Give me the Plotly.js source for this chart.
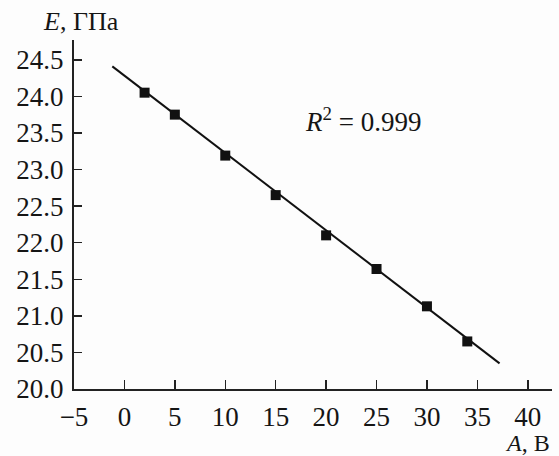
<!DOCTYPE html>
<html><head><meta charset="utf-8">
<script src="https://cdn.plot.ly/plotly-3.0.1.min.js"></script>
<style>html,body{margin:0;padding:0;background:#fdfdfd;}</style>
</head><body>
<div id="chart" style="width:559px;height:456px;"></div>
<script>
// Measured points
const voltage = [2, 5, 10, 15, 20, 25, 30, 34];
const modulus = [24.05, 23.75, 23.19, 22.65, 22.10, 21.64, 21.13, 20.65];
// Linear fit line endpoints
const fitX = [-1.2, 37.2];
const fitY = [24.41, 20.35];
const xTicks = [-5, 0, 5, 10, 15, 20, 25, 30, 35, 40];
const yTicks = [20.0, 20.5, 21.0, 21.5, 22.0, 22.5, 23.0, 23.5, 24.0, 24.5];

const fam = 'Liberation Serif, Times New Roman, serif';
const font = {family: fam, size: 25, color: '#151515'};
const tickFont = {family: fam, size: 27, color: '#151515'};

const traces = [
  {x: fitX, y: fitY, mode: 'lines', line: {color: '#111', width: 2}, hoverinfo: 'skip'},
  {x: voltage, y: modulus, mode: 'markers', marker: {symbol: 'square', size: 10, color: '#111'}}
];

const layout = {
  width: 559, height: 456,
  margin: {l: 74, r: 7, t: 40, b: 67},
  paper_bgcolor: '#fdfdfd', plot_bgcolor: '#fdfdfd',
  showlegend: false,
  font: font,
  xaxis: {
    range: [-5, 42.4], tickvals: xTicks, ticks: 'inside', ticklen: 9, tickwidth: 1.5,
    tickcolor: '#222', showline: true, linecolor: '#222', linewidth: 2,
    showgrid: false, zeroline: false, tickfont: tickFont, ticklabelstandoff: 3
  },
  yaxis: {
    range: [20, 24.77], tickvals: yTicks, tickformat: '.1f', ticks: 'inside', ticklen: 8, tickwidth: 1.5,
    tickcolor: '#222', showline: true, linecolor: '#222', linewidth: 2,
    showgrid: false, zeroline: false, tickfont: tickFont, ticklabelstandoff: 3
  },
  annotations: [
    {xref: 'paper', yref: 'paper', x: -0.07, y: 1.0, xanchor: 'left', yanchor: 'bottom', yshift: 2,
     text: '<i>E</i>, ГПа', showarrow: false, font: {family: fam, size: 26, color: '#151515'}},
    {xref: 'paper', yref: 'paper', x: 1.0, y: 0, xanchor: 'right', yanchor: 'top', yshift: -39,
     text: '<i>A</i>, В', showarrow: false, font: {family: fam, size: 24, color: '#151515'}},
    {xref: 'x', yref: 'y', x: 17.7, y: 23.68, xanchor: 'left', yanchor: 'middle',
     text: '<i>R</i><sup>2</sup> = 0.999', showarrow: false, font: {family: fam, size: 27, color: '#151515'}}
  ]
};

Plotly.newPlot('chart', traces, layout, {displayModeBar: false, staticPlot: true});
</script>
</body></html>
